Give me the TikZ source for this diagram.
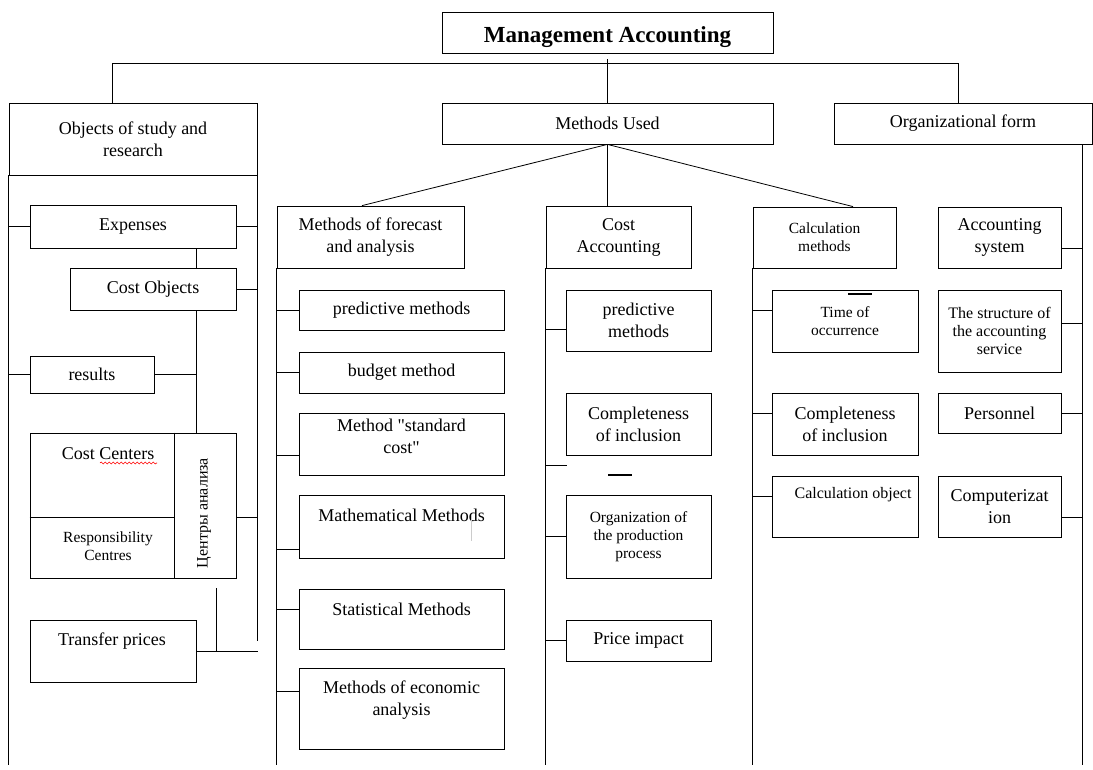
\documentclass[tikz,border=0pt]{standalone}
\usepackage{fontspec}
\setmainfont{Liberation Serif}
\usetikzlibrary{decorations.pathmorphing}

\begin{document}
\begin{tikzpicture}[x=1pt,y=-1pt,line width=0.8pt,
  box/.style={draw,rectangle,inner sep=1pt,align=center,font=\fontsize{18}{22}\selectfont},
  txt/.style={inner sep=0pt,align=center,font=\fontsize{18}{22}\selectfont},
  small/.style={font=\fontsize{15.5}{18}\selectfont}]
\useasboundingbox (0,0) rectangle (1093,770);

% top level
\node[box,minimum width=331,minimum height=41,font=\fontsize{23}{26}\selectfont\bfseries] (mgmt) at (607.5,32.5) {\raisebox{-10pt}[0pt][0pt]{Management Accounting}};
\node[box,minimum width=248,minimum height=72] (objects) at (133,139) {Objects of study and\\research};
\node[box,minimum width=331,minimum height=41] (used) at (607.5,123.5) {Methods Used};
\node[box,minimum width=258,minimum height=41] (orgform) at (963,123.5) {Organizational form};

% objects of study
\node[box,minimum width=206,minimum height=43] (expenses) at (133,226.5) {Expenses};
\node[box,minimum width=166,minimum height=42] (costobj) at (153,289) {Cost Objects};
\node[box,minimum width=124,minimum height=37] (results) at (92,374.5) {results};
\node[box,minimum width=206,minimum height=145] (centers) at (133,505.5) {};
\node[txt] (ccenter) at (108,454) {Cost Centers};
\node[txt,small] (rcentre) at (108,546) {Responsibility\\Centres};
\node[txt,font=\fontsize{16}{18}\selectfont,rotate=90] (analysis) at (204,513) {Центры анализа};
\node[box,minimum width=166,minimum height=62] (transfer) at (113,651) {};
\node[txt] (tptext) at (112,641) {Transfer prices};

% forecast and analysis
\node[box,minimum width=187,minimum height=62] (forecast) at (370.5,237) {Methods of forecast\\and analysis};
\node[box,minimum width=205,minimum height=40] (pred1) at (401.5,310) {predictive methods};
\node[box,minimum width=205,minimum height=41] (budget) at (401.5,372.5) {budget method};
\node[box,minimum width=205,minimum height=62] (standard) at (401.5,444) {};
\node[txt] (stdtext) at (401.5,436) {Method \textquotedbl standard\\cost\textquotedbl};
\node[box,minimum width=205,minimum height=63] (math) at (401.5,526.5) {};
\node[txt] (mathtext) at (401.5,515) {Mathematical Methods};
\node[box,minimum width=205,minimum height=60] (stat) at (401.5,619) {};
\node[txt] (stattext) at (401.5,609) {Statistical Methods};
\node[box,minimum width=205,minimum height=81] (econ) at (401.5,708.5) {};
\node[txt] (econtext) at (401.5,700) {Methods of economic\\analysis};

% cost accounting
\node[box,minimum width=145,minimum height=62] (costacc) at (618.5,237) {Cost\\Accounting};
\node[box,minimum width=145,minimum height=61] (pred2) at (638.5,320.5) {predictive\\methods};
\node[box,minimum width=145,minimum height=62] (compl1) at (638.5,424) {Completeness\\of inclusion};
\node[box,small,minimum width=145,minimum height=83] (orgprod) at (638.5,536.5) {Organization of\\the production\\process};
\node[box,minimum width=145,minimum height=41] (price) at (638.5,640.5) {Price impact};

% calculation
\node[box,small,minimum width=143,minimum height=61] (calc) at (824.5,237.5) {Calculation\\methods};
\node[box,small,minimum width=146,minimum height=62] (time) at (845,321) {Time of\\occurrence};
\node[box,minimum width=146,minimum height=62] (compl2) at (845,424) {Completeness\\of inclusion};
\node[box,minimum width=146,minimum height=61] (calcobj) at (845,506.5) {};
\node[txt,font=\fontsize{16}{18}\selectfont] (cotext) at (853,495) {Calculation object};

% organizational form
\node[box,minimum width=123,minimum height=61] (accsys) at (999.5,237.5) {Accounting\\system};
\node[box,font=\fontsize{16}{18}\selectfont,minimum width=123,minimum height=82] (struct) at (999.5,331) {The structure of\\the accounting\\service};
\node[box,minimum width=123,minimum height=40] (personnel) at (999.5,413) {Personnel};
\node[box,minimum width=123,minimum height=61] (computer) at (999.5,506.5) {Computerizat\\ion};

% top connectors
\coordinate (hubL) at (112,63);
\coordinate (hubR) at (958,63);
\coordinate (bot) at (0,765);
\draw (objects.north -| hubL) -- (hubL) -- (hubR) -- (orgform.north -| hubR);
\draw ([yshift=-6pt]mgmt.south) -- (used.north);
\draw (used.south) -- ([xshift=-8.5pt]forecast.north);
\draw (used.south) -- (used.south |- costacc.north);
\draw (used.south) -- ([xshift=28.5pt]calc.north);

% objects of study
\draw (objects.south west) -- (objects.south west |- bot);
\draw (objects.south east) -- (objects.south east |- 0,641);
\draw (expenses.west) -- (expenses.west -| objects.west);
\draw (expenses.east) -- (expenses.east -| objects.east);
\coordinate (trunk) at (196,0);
\draw (expenses.south -| trunk) -- (costobj.north -| trunk);
\draw (costobj.south -| trunk) -- (centers.north -| trunk);
\draw (costobj.east) -- (costobj.east -| objects.east);
\draw (results.west) -- (results.west -| objects.west);
\draw (results.east) -- (results.east -| trunk);
\coordinate (cdiv) at (174,517);
\draw (centers.north -| cdiv) -- (centers.south -| cdiv);
\draw (centers.west |- cdiv) -- (cdiv);
\draw (centers.east |- cdiv) -- (objects.east |- cdiv);
\coordinate (tpup) at (216,588);
\draw (tpup) -- (tpup |- transfer.east);
\draw (transfer.east) -- ++(62,0);
\draw[red,line width=0.6pt,decorate,decoration={snake,amplitude=1pt,segment length=4pt}] (100,463) -- (157,463);

% forecast spine
\draw (forecast.south west) -- (forecast.south west |- bot);
\draw (pred1.west) -- ++(-22,0);
\draw (budget.west) -- ++(-22,0);
\draw ([yshift=-11pt]standard.west) -- ++(-22,0);
\draw ([yshift=-22.5pt]math.west) -- ++(-22,0);
\draw ([yshift=10pt]stat.west) -- ++(-22,0);
\draw ([yshift=17.5pt]econ.west) -- ++(-22,0);
\draw[gray!40,line width=0.5pt] (471,515) -- (471,541);

% cost accounting spine
\draw (costacc.south west) -- (costacc.south west |- bot);
\draw ([yshift=-8.5pt]pred2.west) -- ++(-20,0);
\draw (costacc.west |- 0,465) -- ++(21,0);
\draw[line width=1.6pt] (608,475) -- (632,475);
\draw (orgprod.west) -- ++(-20,0);
\draw (price.west) -- ++(-20,0);

% calculation spine
\draw (calc.south west) -- (calc.south west |- bot);
\draw ([yshift=11pt]time.west) -- ++(-19,0);
\draw ([yshift=11pt]compl2.west) -- ++(-19,0);
\draw ([yshift=10.5pt]calcobj.west) -- ++(-19,0);
\draw[line width=1.6pt] (848,294) -- (872,294);

% organizational spine
\coordinate (ospine) at (1082,765);
\draw (ospine |- orgform.south) -- (ospine);
\draw ([yshift=-10.5pt]accsys.east) -- ++(21,0);
\draw ([yshift=8pt]struct.east) -- ++(21,0);
\draw (personnel.east) -- ++(21,0);
\draw ([yshift=-10.5pt]computer.east) -- ++(21,0);
\end{tikzpicture}
\end{document}
